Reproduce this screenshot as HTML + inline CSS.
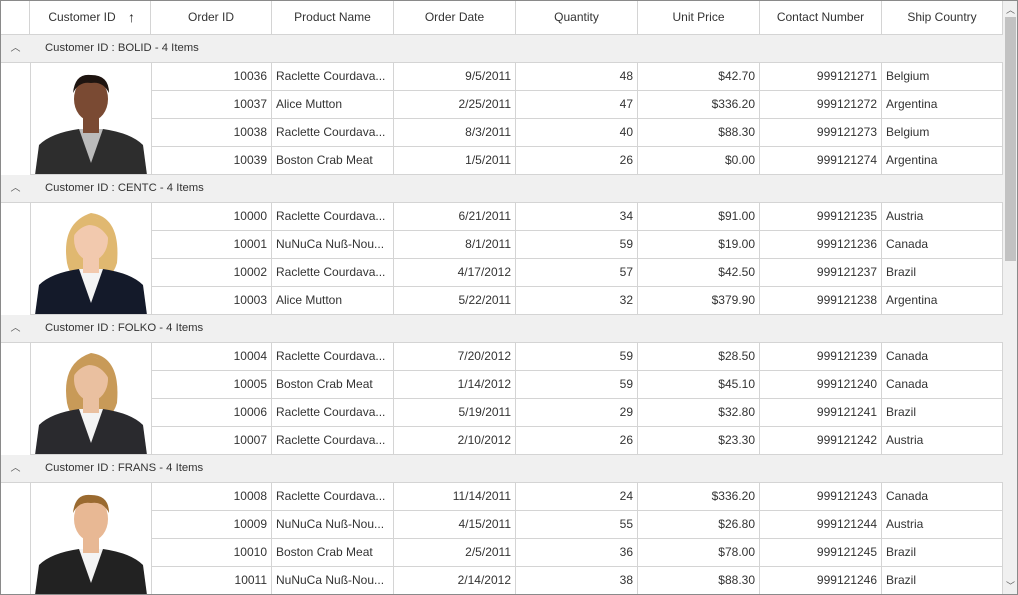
<!DOCTYPE html>
<html><head><meta charset="utf-8">
<style>
body{margin:0;width:1018px;height:595px;overflow:hidden;background:#fff;font-family:"Liberation Sans",sans-serif;font-size:12px;color:#333}
#grid{position:absolute;left:0;top:0;width:1016px;height:593px;border:1px solid #8a8a8a;overflow:hidden;background:#fff}
.c{position:absolute;box-sizing:border-box;white-space:nowrap;overflow:hidden;line-height:27px}
.hd{color:#333;text-align:center;line-height:33px;border-right:1px solid #d4d4d4;border-bottom:1px solid #d4d4d4;top:0;height:34px}
.cell{border-right:1px solid #d4d4d4;border-bottom:1px solid #d4d4d4;height:28px;padding:0 4px}
.r{text-align:right}
.grp{background:#f0f0f0;border-bottom:1px solid #d4d4d4;height:28px}
#sb{position:absolute;left:1002px;top:0;width:14px;height:593px;background:#f0f0f0}
#thumb{position:absolute;left:2px;top:16px;width:11px;height:244px;background:#c2c2c2}
</style></head><body>
<div id="grid"></div>
<div id="sb" style="left:1003px;top:1px;height:593px">
<div style="position:absolute;left:3px;top:2px;font-size:9px;color:#606060">︿</div>
<div id="thumb"></div>
<div style="position:absolute;left:3px;top:578px;font-size:9px;color:#606060">﹀</div>
</div>
<script>
const headers=["Customer ID","Order ID","Product Name","Order Date","Quantity","Unit Price","Contact Number","Ship Country"];
const groups=["BOLID","CENTC","FOLKO","FRANS"];
const orderIds=[10036,10037,10038,10039,10000,10001,10002,10003,10004,10005,10006,10007,10008,10009,10010,10011];
const products=["Raclette  Courdava...","Alice Mutton","Raclette  Courdava...","Boston Crab Meat","Raclette  Courdava...","NuNuCa  Nuß-Nou...","Raclette  Courdava...","Alice Mutton","Raclette  Courdava...","Boston Crab Meat","Raclette  Courdava...","Raclette  Courdava...","Raclette  Courdava...","NuNuCa  Nuß-Nou...","Boston Crab Meat","NuNuCa  Nuß-Nou..."];
const dates=["9/5/2011","2/25/2011","8/3/2011","1/5/2011","6/21/2011","8/1/2011","4/17/2012","5/22/2011","7/20/2012","1/14/2012","5/19/2011","2/10/2012","11/14/2011","4/15/2011","2/5/2011","2/14/2012"];
const qty=[48,47,40,26,34,59,57,32,59,59,29,26,24,55,36,38];
const prices=["$42.70","$336.20","$88.30","$0.00","$91.00","$19.00","$42.50","$379.90","$28.50","$45.10","$32.80","$23.30","$336.20","$26.80","$78.00","$88.30"];
const contacts=[999121271,999121272,999121273,999121274,999121235,999121236,999121237,999121238,999121239,999121240,999121241,999121242,999121243,999121244,999121245,999121246];
const countries=["Belgium","Argentina","Belgium","Argentina","Austria","Canada","Brazil","Argentina","Canada","Canada","Brazil","Austria","Canada","Austria","Brazil","Brazil"];
const colX=[0,29,150,271,393,515,637,759,881,1002];
const g=document.getElementById('grid');
function mk(cls,x,y,w,txt,name,inter){const d=document.createElement('div');d.className='c '+cls;d.style.left=x+'px';d.style.top=y+'px';d.style.width=w+'px';if(txt!==undefined)d.textContent=txt;


g.appendChild(d);return d;}
mk('hd',0,0,29,'','header-indent',false);
headers.forEach((h,i)=>{const d=mk('hd',colX[i+1],0,colX[i+2]-colX[i+1],h,'header-'+h.toLowerCase().replace(/ /g,'-'),true);
if(i==0){d.style.paddingRight='16px';const s=document.createElement('span');s.textContent='↑';s.style.cssText='position:absolute;left:98px;top:0;font-size:14px;color:#222';


d.appendChild(s);}});
const skins=['#7a4a33','#f2c9ae','#eac0a0','#e8b894'];const hairs=['#1e1410','#e0b870','#c89a58','#9a6a30'];
const suits=['#2d2d2d','#141a2a','#2a2a2e','#222'];
groups.forEach((gname,gi)=>{
 const y0=34+gi*140;
 const gr=mk('grp',0,y0,1002,'','group-header-'+gname.toLowerCase(),true);
 mk('',0,y0,29,'︿','group-expander-'+gname.toLowerCase(),true).style.cssText+='text-align:center;color:#555;font-size:10px;line-height:28px';
 const cap=mk('',44,y0,300,'Customer ID : '+gname+' - 4 Items','group-caption-'+gname.toLowerCase(),false);
 cap.style.fontSize='11.3px';
 const im=mk('',29,y0+28,122,'','customer-photo-'+gname.toLowerCase(),false);
 im.style.height='112px';im.style.borderLeft='1px solid #d4d4d4';im.style.borderRight='1px solid #d4d4d4';im.style.borderBottom='1px solid #d4d4d4';
 const fem=gi==1||gi==2;
 im.innerHTML=`<svg width="120" height="112" style="position:absolute;left:0;top:0">
 ${fem?`<path d="M36 60 Q30 20 60 10 Q90 14 86 60 Q80 80 60 80 Q40 80 36 60Z" fill="${hairs[gi]}"/>`:''}
 <path d="M4 112 L8 82 Q20 70 48 66 L72 66 Q100 70 112 82 L116 112Z" fill="${suits[gi]}"/>
 <path d="M48 66 L60 100 L72 66Z" fill="${gi==0?'#bbb':'#f4f4f4'}"/>
 <rect x="52" y="50" width="16" height="20" fill="${skins[gi]}"/>
 <ellipse cx="60" cy="36" rx="17" ry="22" fill="${skins[gi]}"/>
 ${fem?'':`<path d="M42 30 Q44 10 60 12 Q78 12 78 30 Q72 18 60 20 Q48 18 42 30Z" fill="${hairs[gi]}"/>`}
 ${fem?`<path d="M42 34 Q44 12 62 14 Q78 18 78 36 Q70 22 58 22 Q48 24 42 34Z" fill="${hairs[gi]}"/>`:''}
 </svg>`;
 for(let r=0;r<4;r++){
  const k=gi*4+r,y=y0+28+r*28;
  const vals=[orderIds[k],products[k],dates[k],qty[k],prices[k],contacts[k],countries[k]];
  const names=['order-id','product-name','order-date','quantity','unit-price','contact-number','ship-country'];
  vals.forEach((v,j)=>{const right=[0,2,3,4,5].includes(j);
   mk('cell'+(right?' r':''),colX[j+2],y,colX[j+3]-colX[j+2],String(v),names[j]+'-cell-'+orderIds[k],true);});
 }
});
</script>
</body></html>
